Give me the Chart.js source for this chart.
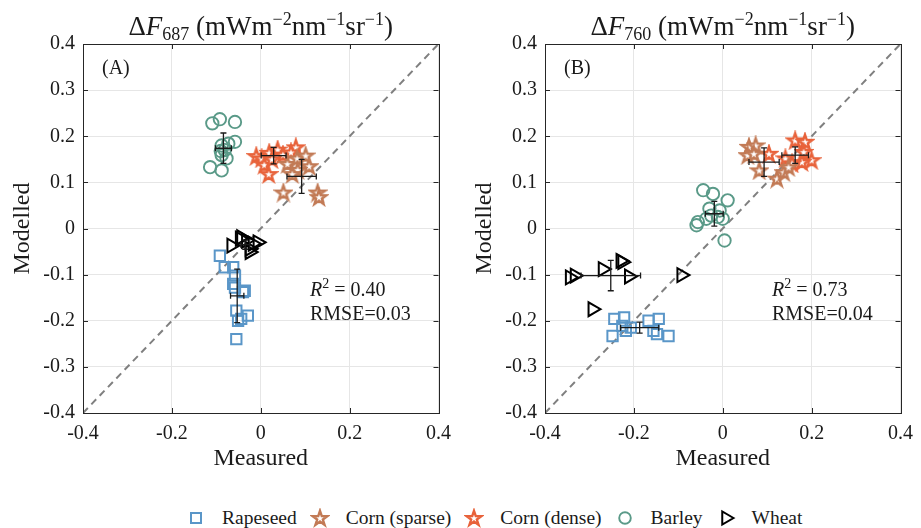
<!DOCTYPE html>
<html>
<head>
<meta charset="utf-8">
<script src="https://cdn.jsdelivr.net/npm/chart.js@4"></script>
<style>
  body { margin: 0; width: 921px; height: 528px; overflow: hidden; position: relative; background: #fff; }
  canvas.panel { position: absolute; top: 0; }
  #legend { position: absolute; left: 186px; top: 507px; display: flex; align-items: center;
            font-family: "Liberation Serif", serif; font-size: 19.5px; color: #1a1a1a; white-space: nowrap; }
  #legend .item { display: flex; align-items: center; margin-right: 13px; }
  #legend canvas { margin-right: 16px; }
</style>
</head>
<body>
<canvas id="panelA" class="panel" width="460" height="480" style="left:0"></canvas>
<canvas id="panelB" class="panel" width="460" height="480" style="left:462px"></canvas>
<div id="legend"></div>
<script>
const FONT = '"Liberation Serif", "Times New Roman", serif';
const INK = '#1a1a1a';

// series
const seriesNames = ['Rapeseed', 'Corn (sparse)', 'Corn (dense)', 'Barley', 'Wheat'];
const seriesColors = ['#5a96c8', '#c27a55', '#e8623a', '#5a9a88', '#000000'];
const seriesMarkers = ['rect', 'star', 'star', 'circle', 'triangle'];

// panel A: dF687, [measured, modelled]
const rapeseedA = [[-0.092,-0.059],[-0.081,-0.084],[-0.062,-0.084],[-0.058,-0.102],[-0.062,-0.120],[-0.058,-0.128],
  [-0.040,-0.138],[-0.036,-0.135],[-0.055,-0.178],[-0.029,-0.189],[-0.044,-0.196],[-0.051,-0.200],[-0.055,-0.240]];
const cornSparseA = [[0.060,0.140],[0.082,0.152],[0.101,0.158],[0.109,0.135],[0.083,0.127],[0.071,0.118],
  [0.051,0.078],[0.128,0.078],[0.131,0.068]];
const cornDenseA = [[-0.010,0.157],[0.002,0.152],[0.019,0.164],[0.038,0.171],[0.079,0.176],[0.008,0.138],
  [0.018,0.118],[0.050,0.160],[0.068,0.165],[0.025,0.150]];
const barleyA = [[-0.109,0.228],[-0.092,0.237],[-0.058,0.231],[-0.088,0.180],[-0.073,0.184],[-0.058,0.188],
  [-0.081,0.170],[-0.088,0.159],[-0.077,0.152],[-0.114,0.133],[-0.088,0.126],[-0.090,0.168]];
const wheatA = [[-0.066,-0.037],[-0.047,-0.022],[-0.033,-0.026],[-0.007,-0.030],[-0.025,-0.044],[-0.025,-0.051],
  [-0.044,-0.019],[-0.018,-0.033]];

// panel B: dF760
const rapeseedB = [[-0.244,-0.196],[-0.222,-0.193],[-0.226,-0.211],[-0.207,-0.215],[-0.248,-0.233],[-0.218,-0.222],
  [-0.167,-0.200],[-0.144,-0.196],[-0.156,-0.222],[-0.148,-0.229],[-0.122,-0.233]];
const cornSparseB = [[0.059,0.177],[0.074,0.180],[0.056,0.159],[0.070,0.162],[0.082,0.126],[0.122,0.108],
  [0.137,0.122],[0.148,0.133]];
const cornDenseB = [[0.104,0.162],[0.141,0.152],[0.163,0.191],[0.185,0.188],[0.200,0.148],[0.178,0.144],
  [0.156,0.141],[0.182,0.166]];
const barleyB = [[-0.044,0.083],[-0.022,0.075],[0.011,0.061],[-0.030,0.043],[-0.007,0.039],[-0.037,0.021],
  [-0.056,0.014],[-0.059,0.007],[-0.011,0.025],[0.000,0.021],[0.004,-0.026],[-0.026,0.028]];
const wheatB = [[-0.344,-0.106],[-0.333,-0.102],[-0.270,-0.088],[-0.230,-0.070],[-0.226,-0.073],[-0.211,-0.104],
  [-0.293,-0.175],[-0.093,-0.101]];

// group mean +- sd (order as seriesNames)
const meanXA = [-0.053, 0.092, 0.029, -0.084, -0.035];
const meanYA = [-0.146, 0.113, 0.158, 0.174, -0.035];
const sdXA = [0.015, 0.033, 0.028, 0.018, 0.010];
const sdYA = [0.058, 0.037, 0.018, 0.033, 0.010];
const meanXB = [-0.187, 0.093, 0.163, -0.019, -0.252];
const meanYB = [-0.215, 0.144, 0.159, 0.032, -0.102];
const sdXB = [0.043, 0.034, 0.030, 0.020, 0.067];
const sdYB = [0.012, 0.031, 0.018, 0.027, 0.033];

const oneToOne = [-0.4, 0.4];

function makeStar(color) {
  const c = document.createElement('canvas');
  c.width = 20; c.height = 20;
  const g = c.getContext('2d');
  g.beginPath();
  for (let i = 0; i < 10; i++) {
    const r = i % 2 ? 3 : 7.8;
    const a = -Math.PI / 2 + i * Math.PI / 5;
    g.lineTo(10 + r * Math.cos(a), 10.6 + r * Math.sin(a));
  }
  g.closePath();
  g.fillStyle = '#fff';
  g.fill();
  g.lineWidth = 2.4;
  g.lineJoin = 'miter';
  g.strokeStyle = color;
  g.stroke();
  return c;
}
const starSparse = makeStar(seriesColors[1]);
const starDense = makeStar(seriesColors[2]);

function pointOpts(i) {
  const m = seriesMarkers[i];
  const o = { borderColor: seriesColors[i], backgroundColor: 'rgba(0,0,0,0)', pointBorderWidth: 2 };
  if (m === 'rect') { o.pointStyle = 'rect'; o.pointRadius = 7.3; }
  if (m === 'star') { o.pointStyle = i === 1 ? starSparse : starDense; }
  if (m === 'circle') { o.pointStyle = 'circle'; o.pointRadius = 6.2; o.pointBorderWidth = 1.9; }
  if (m === 'triangle') { o.pointStyle = 'triangle'; o.pointRadius = 8; o.pointRotation = 90; }
  return o;
}

function drawRich(ctx, parts, x, y, align) {
  let w = 0;
  const fontOf = p => (p.it ? 'italic ' : '') + p.size + 'px ' + FONT;
  parts.forEach(p => { ctx.font = fontOf(p); p.w = ctx.measureText(p.t).width; w += p.w; });
  let cx = align === 'center' ? x - w / 2 : x;
  ctx.textAlign = 'left';
  ctx.textBaseline = 'alphabetic';
  parts.forEach(p => { ctx.font = fontOf(p); ctx.fillText(p.t, cx, y + (p.dy || 0)); cx += p.w; });
}

function titleParts(band) {
  const big = 27, small = 18;
  return [
    { t: 'Δ', size: big }, { t: 'F', size: big, it: true }, { t: band, size: small, dy: 5 },
    { t: ' (mWm', size: big }, { t: '−2', size: small, dy: -10 }, { t: 'nm', size: big },
    { t: '−1', size: small, dy: -10 }, { t: 'sr', size: big }, { t: '−1', size: small, dy: -10 },
    { t: ')', size: big }
  ];
}

function makePanel(id, band, tag, r2, rmse, groups, mx, my, sx, sy) {
  const datasets = groups.map((pts, i) => Object.assign({
    label: seriesNames[i],
    data: pts.map(p => ({ x: p[0], y: p[1] }))
  }, pointOpts(i)));
  datasets.push({
    label: '1:1',
    data: oneToOne.map(v => ({ x: v, y: v })),
    showLine: true, borderColor: '#808080', borderWidth: 2, borderDash: [7, 5],
    pointRadius: 0, order: 10
  });

  const decor = {
    id: 'decor',
    afterDatasetsDraw(chart) {
      const ctx = chart.ctx, xs = chart.scales.x, ys = chart.scales.y;
      ctx.save();
      ctx.strokeStyle = INK;
      ctx.lineWidth = 1.3;
      for (let i = 0; i < mx.length; i++) {
        const x0 = xs.getPixelForValue(mx[i] - sx[i]), x1 = xs.getPixelForValue(mx[i] + sx[i]);
        const y0 = ys.getPixelForValue(my[i] - sy[i]), y1 = ys.getPixelForValue(my[i] + sy[i]);
        const cx = xs.getPixelForValue(mx[i]), cy = ys.getPixelForValue(my[i]);
        ctx.beginPath();
        ctx.moveTo(x0, cy); ctx.lineTo(x1, cy);
        ctx.moveTo(x0, cy - 3); ctx.lineTo(x0, cy + 3);
        ctx.moveTo(x1, cy - 3); ctx.lineTo(x1, cy + 3);
        ctx.moveTo(cx, y0); ctx.lineTo(cx, y1);
        ctx.moveTo(cx - 3, y0); ctx.lineTo(cx + 3, y0);
        ctx.moveTo(cx - 3, y1); ctx.lineTo(cx + 3, y1);
        ctx.stroke();
      }
      ctx.restore();
    },
    afterDraw(chart) {
      const ctx = chart.ctx, a = chart.chartArea, xs = chart.scales.x, ys = chart.scales.y;
      ctx.save();
      // box with inward ticks
      ctx.strokeStyle = '#262626';
      ctx.lineWidth = 1;
      ctx.strokeRect(Math.round(a.left) + 0.5, Math.round(a.top) + 0.5,
        Math.round(a.right - a.left), Math.round(a.bottom - a.top));
      ctx.beginPath();
      xs.ticks.forEach(t => {
        const p = Math.round(xs.getPixelForValue(t.value)) + 0.5;
        ctx.moveTo(p, a.bottom); ctx.lineTo(p, a.bottom - 5);
        ctx.moveTo(p, a.top); ctx.lineTo(p, a.top + 5);
      });
      ys.ticks.forEach(t => {
        const p = Math.round(ys.getPixelForValue(t.value)) + 0.5;
        ctx.moveTo(a.left, p); ctx.lineTo(a.left + 5, p);
        ctx.moveTo(a.right, p); ctx.lineTo(a.right - 5, p);
      });
      ctx.stroke();
      // texts
      ctx.fillStyle = INK;
      drawRich(ctx, titleParts(band), (a.left + a.right) / 2, 35, 'center');
      drawRich(ctx, [{ t: tag, size: 20 }], a.left + 19, a.top + 30, 'left');
      drawRich(ctx, [{ t: 'R', size: 20, it: true }, { t: '2', size: 14, dy: -8 }, { t: ' = ' + r2, size: 20 }],
        a.left + 227, a.top + 252, 'left');
      drawRich(ctx, [{ t: 'RMSE=' + rmse, size: 20 }], a.left + 227, a.top + 276, 'left');
      ctx.restore();
    }
  };

  const fmt = v => Math.abs(v) < 1e-9 ? '0' : v.toFixed(1);
  return new Chart(document.getElementById(id), {
    type: 'scatter',
    data: { datasets },
    options: {
      responsive: false,
      animation: false,
      events: [],
      layout: { padding: { top: 44, left: 0, right: 17, bottom: 7 } },
      plugins: { legend: { display: false }, tooltip: { enabled: false } },
      scales: {
        x: {
          type: 'linear', min: -0.4, max: 0.4,
          ticks: { stepSize: 0.2, padding: 9, color: INK, font: { family: FONT, size: 20 }, callback: fmt },
          grid: { color: '#e6e6e6', drawTicks: false },
          border: { display: false },
          title: { display: true, text: 'Measured', color: INK, font: { family: FONT, size: 24 }, padding: 0 },
          afterFit: s => { s.height = 60; }
        },
        y: {
          type: 'linear', min: -0.4, max: 0.4,
          ticks: { stepSize: 0.1, padding: 8, color: INK, font: { family: FONT, size: 20 }, callback: fmt },
          grid: { color: '#e6e6e6', drawTicks: false },
          border: { display: false },
          title: { display: true, text: 'Modelled', color: INK, font: { family: FONT, size: 24 }, padding: { top: 8, bottom: 0 } },
          afterFit: s => { s.width = 83; }
        }
      }
    },
    plugins: [decor]
  });
}

makePanel('panelA', '687', '(A)', '0.40', '0.03',
  [rapeseedA, cornSparseA, cornDenseA, barleyA, wheatA], meanXA, meanYA, sdXA, sdYA);
makePanel('panelB', '760', '(B)', '0.73', '0.04',
  [rapeseedB, cornSparseB, cornDenseB, barleyB, wheatB], meanXB, meanYB, sdXB, sdYB);

// legend
const legend = document.getElementById('legend');
seriesNames.forEach((name, i) => {
  const item = document.createElement('div');
  item.className = 'item';
  const c = document.createElement('canvas');
  c.width = 20; c.height = 20;
  const g = c.getContext('2d');
  g.strokeStyle = seriesColors[i];
  g.lineWidth = 2;
  const m = seriesMarkers[i];
  if (m === 'rect') g.strokeRect(5, 5, 10, 10);
  if (m === 'star') g.drawImage(i === 1 ? starSparse : starDense, 0, 0);
  if (m === 'circle') { g.lineWidth = 1.9; g.beginPath(); g.arc(10, 10, 5.8, 0, Math.PI * 2); g.stroke(); }
  if (m === 'triangle') {
    g.beginPath(); g.moveTo(17.5, 10); g.lineTo(6.25, 3.5); g.lineTo(6.25, 16.5); g.closePath(); g.stroke();
  }
  item.appendChild(c);
  const s = document.createElement('span');
  s.textContent = name;
  item.appendChild(s);
  legend.appendChild(item);
});
</script>
</body>
</html>
